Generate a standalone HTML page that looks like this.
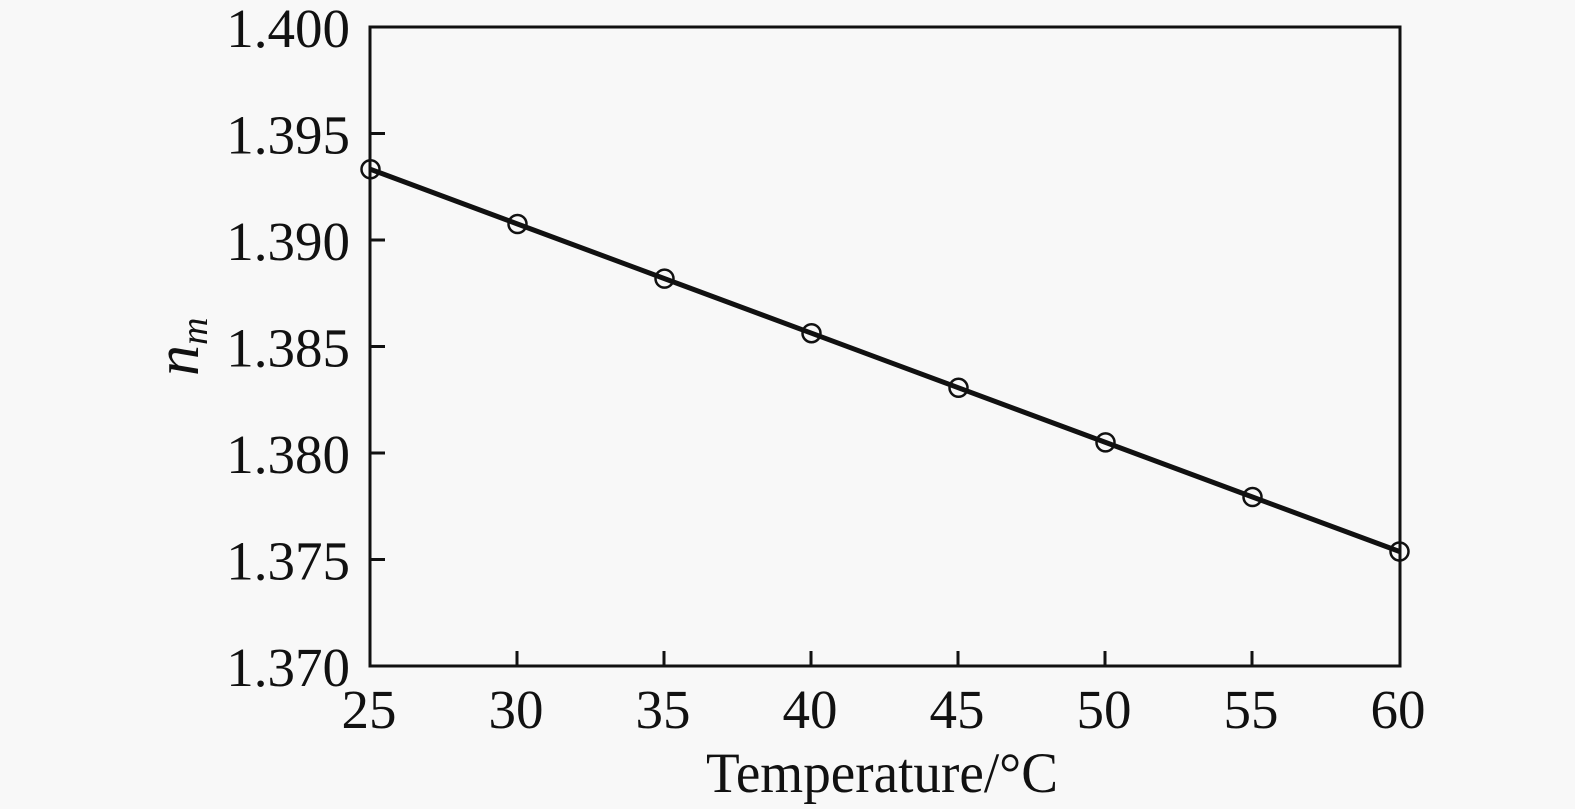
<!DOCTYPE html>
<html><head><meta charset="utf-8"><style>
html,body{margin:0;padding:0;background:#f8f8f8;}
svg{display:block;}
text{font-family:"Liberation Serif","Times New Roman",serif;fill:#111;}
</style></head><body>
<svg width="1575" height="809" viewBox="0 0 1575 809" xmlns="http://www.w3.org/2000/svg">
<rect width="1575" height="809" fill="#f8f8f8"/>
<!-- axes box -->
<g stroke="#111" stroke-width="3" fill="none">
<rect x="370" y="27" width="1030" height="639"/>
<!-- y ticks -->
<line x1="370" y1="133.5" x2="385" y2="133.5"/>
<line x1="370" y1="240" x2="385" y2="240"/>
<line x1="370" y1="346.5" x2="385" y2="346.5"/>
<line x1="370" y1="453" x2="385" y2="453"/>
<line x1="370" y1="559.5" x2="385" y2="559.5"/>
<!-- x ticks -->
<line x1="517" y1="666" x2="517" y2="651"/>
<line x1="664" y1="666" x2="664" y2="651"/>
<line x1="811" y1="666" x2="811" y2="651"/>
<line x1="958" y1="666" x2="958" y2="651"/>
<line x1="1105" y1="666" x2="1105" y2="651"/>
<line x1="1252" y1="666" x2="1252" y2="651"/>
</g>
<!-- data line -->
<polyline fill="none" stroke="#111" stroke-width="5" points="370.5,169.3 517.5,224 664.5,278.6 811.5,333.2 958.5,387.8 1105.5,442.4 1252.5,497 1399.5,551.5"/>
<g fill="none" stroke="#111" stroke-width="2.5">
<circle cx="370.5" cy="169.3" r="9"/>
<circle cx="517.5" cy="224" r="9"/>
<circle cx="664.5" cy="278.6" r="9"/>
<circle cx="811.5" cy="333.2" r="9"/>
<circle cx="958.5" cy="387.8" r="9"/>
<circle cx="1105.5" cy="442.4" r="9"/>
<circle cx="1252.5" cy="497" r="9"/>
<circle cx="1399.5" cy="551.5" r="9"/>
</g>
<!-- y tick labels -->
<g font-size="55" text-anchor="end">
<text x="350" y="47">1.400</text>
<text x="350" y="153.5">1.395</text>
<text x="350" y="260">1.390</text>
<text x="350" y="366.5">1.385</text>
<text x="350" y="473">1.380</text>
<text x="350" y="579.5">1.375</text>
<text x="350" y="686">1.370</text>
</g>
<!-- x tick labels -->
<g font-size="55" text-anchor="middle">
<text x="369" y="728">25</text>
<text x="516" y="728">30</text>
<text x="663" y="728">35</text>
<text x="810" y="728">40</text>
<text x="957" y="728">45</text>
<text x="1104" y="728">50</text>
<text x="1251" y="728">55</text>
<text x="1398" y="728">60</text>
</g>
<!-- x axis label -->
<text x="706" y="792" font-size="57" textLength="352" lengthAdjust="spacingAndGlyphs">Temperature/°C</text>
<!-- y axis label -->
<g transform="translate(198,376) rotate(-90)">
<text x="0" y="0" font-size="62" font-style="italic">n<tspan font-size="38" dy="9">m</tspan></text>
</g>
</svg>
</body></html>
